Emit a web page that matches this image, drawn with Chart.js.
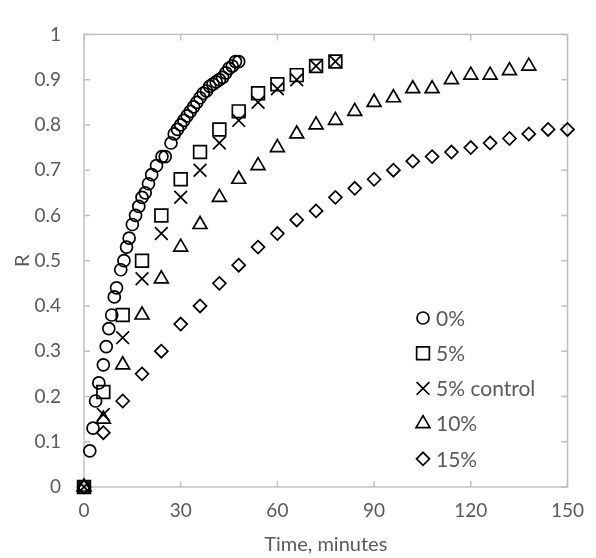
<!DOCTYPE html>
<html>
<head>
<meta charset="utf-8">
<script src="https://cdn.jsdelivr.net/npm/chart.js@4.4.1/dist/chart.umd.min.js"></script>
<style>
  html, body { margin: 0; padding: 0; background: #fff; }
  #wrap { width: 596px; height: 558px; }
</style>
</head>
<body>
<div id="wrap"><canvas id="c" width="596" height="558"></canvas></div>
<script>
// time (minutes) and R for each series
const t0 = [0, 1.8, 2.8, 3.6, 4.6, 6, 6.9, 7.7, 8.6, 9.4, 10.1, 11.4, 12.4, 13.2, 14, 15, 16, 17, 18, 19, 20, 21, 22.5, 24.2, 25.2,
  27, 28, 29, 30, 31, 32, 33, 34, 35, 36, 37, 38, 39, 40, 41, 42, 43, 44, 45, 46, 47, 48];
const r0 = [0, 0.08, 0.13, 0.19, 0.23, 0.27, 0.31, 0.35, 0.38, 0.42, 0.44, 0.48, 0.50, 0.53, 0.55, 0.58, 0.60, 0.62, 0.64, 0.65, 0.67, 0.69, 0.71, 0.73, 0.73,
  0.76, 0.78, 0.79, 0.80, 0.81, 0.82, 0.83, 0.84, 0.85, 0.86, 0.87, 0.875, 0.885, 0.89, 0.895, 0.90, 0.905, 0.915, 0.925, 0.93, 0.94, 0.94];

const t5 = [0, 6, 12, 18, 24, 30, 36, 42, 48, 54, 60, 66, 72, 78];
const r5 = [0, 0.21, 0.38, 0.50, 0.60, 0.68, 0.74, 0.79, 0.83, 0.87, 0.89, 0.91, 0.93, 0.94];
const r5c = [0, 0.16, 0.33, 0.46, 0.56, 0.64, 0.70, 0.76, 0.81, 0.85, 0.88, 0.90, 0.93, 0.94];

const t10 = [0, 6, 12, 18, 24, 30, 36, 42, 48, 54, 60, 66, 72, 78, 84, 90, 96, 102, 108, 114, 120, 126, 132, 138];
const r10 = [0, 0.15, 0.27, 0.38, 0.46, 0.53, 0.58, 0.64, 0.68, 0.71, 0.75, 0.78, 0.80, 0.81, 0.83, 0.85, 0.86, 0.88, 0.88, 0.90, 0.91, 0.91, 0.92, 0.93];

const t15 = [0, 6, 12, 18, 24, 30, 36, 42, 48, 54, 60, 66, 72, 78, 84, 90, 96, 102, 108, 114, 120, 126, 132, 138, 144, 150];
const r15 = [0, 0.12, 0.19, 0.25, 0.30, 0.36, 0.40, 0.45, 0.49, 0.53, 0.56, 0.59, 0.61, 0.64, 0.66, 0.68, 0.70, 0.72, 0.73, 0.74, 0.75, 0.76, 0.77, 0.78, 0.79, 0.79];

const labels = ["0%", "5%", "5% control", "10%", "15%"];
const xTicks = [0, 30, 60, 90, 120, 150];
const yTicks = [0, 0.1, 0.2, 0.3, 0.4, 0.5, 0.6, 0.7, 0.8, 0.9, 1];

const FONT = "Lato";
const GREY = "#595959";
const AXIS = "#c0c0c0";

function pts(ts, rs) {
  return ts.map((t, i) => ({ x: t, y: rs[i] }));
}

function series(label, data, style, radius) {
  return {
    label: label,
    data: data,
    pointStyle: style,
    pointRadius: radius,
    pointHoverRadius: radius,
    pointBorderWidth: 1.7,
    borderColor: "#000",
    backgroundColor: "rgba(0,0,0,0)",
    showLine: false,
    clip: false
  };
}

// frame with inward tick marks, as in the original
const framePlugin = {
  id: "frame",
  beforeDatasetsDraw(chart) {
    const { ctx, chartArea: a, scales } = chart;
    ctx.save();
    ctx.strokeStyle = AXIS;
    ctx.lineWidth = 1.5;
    ctx.strokeRect(a.left, a.top, a.right - a.left, a.bottom - a.top);
    const len = 6;
    ctx.beginPath();
    xTicks.forEach(v => {
      const x = scales.x.getPixelForValue(v);
      ctx.moveTo(x, a.bottom); ctx.lineTo(x, a.bottom - len);
      ctx.moveTo(x, a.top); ctx.lineTo(x, a.top + len);
    });
    yTicks.forEach(v => {
      const y = scales.y.getPixelForValue(v);
      ctx.moveTo(a.left, y); ctx.lineTo(a.left + len, y);
      ctx.moveTo(a.right, y); ctx.lineTo(a.right - len, y);
    });
    ctx.stroke();
    ctx.restore();
  }
};

// legend inside the plot, lower right
const legendPlugin = {
  id: "innerLegend",
  afterDraw(chart) {
    const { ctx } = chart;
    const x0 = 423, y0 = 318, gap = 35.2;
    ctx.save();
    chart.data.datasets.forEach((ds, i) => {
      const y = y0 + i * gap;
      ctx.strokeStyle = "#000";
      ctx.fillStyle = "rgba(0,0,0,0)";
      ctx.lineWidth = 1.7;
      Chart.helpers.drawPoint(ctx, {
        pointStyle: ds.pointStyle,
        radius: ds.pointRadius,
        rotation: 0,
        borderWidth: 1.7
      }, x0, y);
      ctx.fillStyle = GREY;
      ctx.font = "21px " + FONT;
      ctx.textBaseline = "middle";
      ctx.textAlign = "left";
      ctx.fillText(ds.label, x0 + 13, y + 1);
    });
    ctx.restore();
  }
};

new Chart(document.getElementById("c"), {
  type: "scatter",
  data: {
    datasets: [
      series(labels[0], pts(t0, r0), "circle", 6),
      series(labels[1], pts(t5, r5), "rect", 9),
      series(labels[2], pts(t5, r5c), "crossRot", 9),
      series(labels[3], pts(t10, r10), "triangle", 8),
      series(labels[4], pts(t15, r15), "rectRot", 6.5)
    ]
  },
  options: {
    responsive: false,
    animation: false,
    events: [],
    layout: { padding: { top: 15, right: 19, left: 0, bottom: 0 } },
    plugins: { legend: { display: false }, tooltip: { enabled: false } },
    scales: {
      x: {
        type: "linear",
        min: 0,
        max: 150,
        afterFit(scale) { scale.height = 71; },
        afterBuildTicks(scale) { scale.ticks = xTicks.map(v => ({ value: v })); },
        grid: { display: false, drawTicks: false },
        border: { display: false },
        ticks: { color: GREY, font: { family: FONT, size: 19 }, padding: 12, maxRotation: 0 },
        title: {
          display: true,
          text: "Time, minutes",
          color: GREY,
          font: { family: FONT, size: 20 },
          padding: { top: 0, bottom: 1 }
        }
      },
      y: {
        type: "linear",
        min: 0,
        max: 1,
        afterFit(scale) { scale.width = 84; },
        afterBuildTicks(scale) { scale.ticks = yTicks.map(v => ({ value: v })); },
        grid: { display: false, drawTicks: false },
        border: { display: false },
        ticks: {
          color: GREY,
          font: { family: FONT, size: 19 },
          padding: 23,
          callback: v => String(+v.toFixed(1))
        },
        title: {
          display: true,
          text: "R",
          color: GREY,
          font: { family: FONT, size: 20 },
          padding: { top: 11, bottom: 0 }
        }
      }
    }
  },
  plugins: [framePlugin, legendPlugin]
});
</script>
</body>
</html>
